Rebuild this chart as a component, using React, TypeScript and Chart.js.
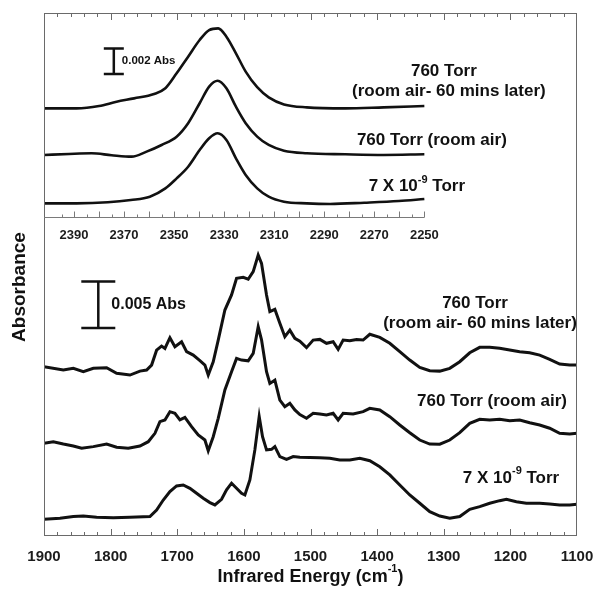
import React, { useEffect, useRef } from "react";
import { Chart, registerables } from "chart.js";

Chart.register(...registerables);

// ---------- Main panel: 1900–1100 cm-1, absorbance in mAbs relative to each trace's start ----------
const laterWn = [1900, 1871, 1856, 1841, 1826, 1806, 1791, 1771, 1756, 1746, 1738.5, 1731, 1723.5, 1718.5, 1711, 1703.5, 1693.5, 1686, 1676, 1666, 1658.5, 1653.5, 1646, 1638.5, 1628.5, 1618.5, 1611, 1601, 1593.5, 1586, 1578.5, 1573.5, 1566, 1561, 1553.5, 1546, 1538.5, 1531, 1523.5, 1516, 1506, 1496, 1486, 1476, 1466, 1458.5, 1451, 1441, 1431, 1421, 1411, 1396, 1381, 1366, 1351, 1336, 1321, 1306, 1291, 1276, 1261, 1246, 1231, 1216, 1201, 1186, 1171, 1156, 1141, 1126, 1111, 1100];
const laterAbs = [0, -0.35, -0.17, -0.54, -0.17, -0.1, -0.71, -0.89, -0.47, -0.35, 0.18, 1.78, 2.22, 1.97, 3.12, 2.15, 2.69, 1.62, 1.25, 0.65, 0.18, -0.89, 0.54, 2.87, 6.1, 7.72, 9.51, 9.61, 9.41, 10.23, 12.02, 11.12, 7.72, 5.93, 6.18, 4.67, 3.23, 3.94, 3.06, 2.74, 2.05, 2.87, 2.94, 2.52, 2.69, 1.87, 2.87, 2.79, 2.94, 2.87, 3.49, 3.16, 2.52, 1.62, 0.72, -0.07, -0.43, -0.47, -0.17, 0.54, 1.5, 2.09, 2.09, 1.98, 1.8, 1.62, 1.5, 1.25, 0.8, 0.29, 0.18, 0.18];

const airWn = [1900, 1886, 1871, 1856, 1843.5, 1826, 1806, 1791, 1773.5, 1756, 1743.5, 1733.5, 1726, 1718.5, 1711, 1703.5, 1696, 1688.5, 1678.5, 1668.5, 1658.5, 1653.5, 1646, 1638.5, 1628.5, 1618.5, 1611, 1603.5, 1593.5, 1586, 1578.5, 1573.5, 1566, 1561, 1553.5, 1546, 1538.5, 1531, 1523.5, 1516, 1506, 1496, 1486, 1476, 1466, 1458.5, 1451, 1436, 1421, 1411, 1396, 1381, 1366, 1351, 1336, 1321, 1306, 1291, 1276, 1261, 1246, 1231, 1216, 1201, 1186, 1171, 1156, 1141, 1126, 1111, 1100];
const airAbs = [0, 0.17, -0.08, -0.29, -0.54, -0.36, -0.08, -0.43, -0.54, -0.29, 0.17, 1.07, 2.33, 2.51, 3.4, 3.23, 2.51, 2.79, 1.79, 0.89, 0.35, -0.8, 0.71, 2.69, 5.73, 7.7, 9.13, 8.95, 8.87, 9.66, 12.53, 11.12, 7.7, 6.44, 6.79, 4.65, 3.93, 4.3, 3.59, 3.08, 2.69, 3.23, 3.15, 3.04, 3.23, 2.51, 3.23, 3.15, 3.4, 3.76, 3.58, 2.86, 1.97, 1.14, 0.35, -0.08, -0.1, 0.35, 1.14, 2.15, 2.58, 2.51, 2.58, 2.43, 2.51, 2.21, 1.97, 1.62, 1.07, 1.0, 1.07];

const vacWn = [1900, 1876, 1856, 1841, 1821, 1796, 1771, 1741, 1731, 1721, 1711, 1701, 1691, 1681, 1671, 1661, 1651, 1643.5, 1633.5, 1626, 1618.5, 1611, 1603.5, 1598.5, 1591, 1583.5, 1577, 1572, 1566, 1558.5, 1553.5, 1546, 1536, 1526, 1516, 1501, 1486, 1471, 1456, 1441, 1426, 1411, 1396, 1381, 1366, 1351, 1336, 1321, 1306, 1291, 1276, 1261, 1246, 1231, 1216, 1206, 1191, 1176, 1156, 1141, 1126, 1111, 1100];
const vacAbs = [0, 0.1, 0.29, 0.35, 0.22, 0.17, 0.22, 0.29, 1.0, 2.07, 2.98, 3.58, 3.69, 3.33, 2.79, 2.26, 1.79, 1.54, 2.15, 3.16, 3.88, 3.33, 2.79, 2.61, 4.23, 7.46, 11.04, 8.88, 7.46, 7.52, 7.81, 6.74, 6.45, 6.74, 6.67, 6.65, 6.62, 6.56, 6.37, 6.37, 6.56, 6.3, 5.65, 4.77, 3.69, 2.61, 1.72, 0.82, 0.35, 0.1, 0.29, 1.07, 1.36, 1.72, 2.0, 2.15, 1.89, 1.72, 1.72, 1.64, 1.54, 1.54, 1.62];

// Vertical stacking of the main traces (mAbs)
const mainOffsets = [18.2, 9.97, 1.8];

// ---------- Inset: CO2 region 2400–2250 cm-1 ----------
const insetLaterWn = [2402, 2389, 2380, 2373, 2366, 2358, 2353.5, 2349, 2344.4, 2339.8, 2336, 2332.4, 2329.1, 2325.3, 2321.4, 2316.8, 2312.2, 2306.1, 2297, 2281.6, 2266.3, 2250];
const insetLaterAbs = [0, 0, 0.18, 0.52, 0.78, 1.12, 1.57, 2.74, 4.04, 5.34, 6.12, 6.25, 5.6, 4.3, 2.87, 1.65, 0.86, 0.31, 0.08, 0, 0.08, 0.18];

const insetAirWn = [2402, 2392, 2383, 2375, 2367, 2361, 2355, 2349, 2344.4, 2339.8, 2336, 2332.6, 2329.1, 2325.3, 2321.4, 2316.8, 2312.2, 2306.1, 2297, 2281.6, 2266.3, 2250];
const insetAirAbs = [0, 0.08, 0.13, -0.02, -0.13, 0.26, 0.78, 1.43, 2.48, 4.04, 5.34, 5.8, 5.21, 3.77, 2.48, 1.43, 0.78, 0.33, 0.13, 0.05, 0, 0.05];

const insetVacWn = [2402, 2389, 2376.5, 2367.3, 2359.7, 2353.5, 2349, 2344.4, 2339.8, 2336, 2332.6, 2329.1, 2325.3, 2321.4, 2316.8, 2312.2, 2306.1, 2297, 2287.7, 2274, 2260.2, 2250];
const insetVacAbs = [0, 0, 0.08, 0.26, 0.52, 1.17, 1.95, 2.86, 4.16, 5.08, 5.47, 4.95, 3.52, 2.22, 1.17, 0.52, 0.13, 0, -0.05, 0.05, 0.18, 0.34];

const insetOffsets = [33.41, 29.77, 25.99];

// Axis settings
const mainRange = [1100, 1900];
const insetRange = [2189, 2402];
const mainYMax = 56.24;
const insetYMax = 40.86;
const insetTickLabels = [2390, 2370, 2350, 2330, 2310, 2290, 2270, 2250];
const insetAxisLevel = 24.95;
const insetAxisEnd = 2250;

// Scale bars: [wavenumber, lower value, height in mAbs]
const mainBar = [1818.5, 22.37, 5];
const insetBar = [2374.1, 36.09, 2];

const FONT = "'Liberation Sans', Arial, Helvetica, sans-serif";
const INK = "#111";

const zip = (xs: number[], ys: number[], off: number) =>
  xs.slice(0, Math.min(xs.length, ys.length)).map((x, i) => ({ x, y: ys[i] + off }));

type Part = { t: string; sup?: boolean };

function drawParts(ctx: CanvasRenderingContext2D, parts: Part[], cx: number, cy: number, size: number) {
  const big = `bold ${size}px ${FONT}`;
  const small = `bold ${Math.round(size * 0.62)}px ${FONT}`;
  let w = 0;
  for (const p of parts) {
    ctx.font = p.sup ? small : big;
    w += ctx.measureText(p.t).width;
  }
  let x = cx - w / 2;
  ctx.textAlign = "left";
  ctx.textBaseline = "middle";
  for (const p of parts) {
    ctx.font = p.sup ? small : big;
    ctx.fillText(p.t, x, p.sup ? cy - size * 0.42 : cy);
    x += ctx.measureText(p.t).width;
  }
}

const decorations = {
  id: "decorations",
  afterDatasetsDraw(chart: any) {
    const { ctx, chartArea: a, scales } = chart;
    const x = scales.x;
    const xi = scales.xInset;
    const y = scales.y;
    const yi = scales.yInset;
    ctx.save();

    // frame
    ctx.strokeStyle = "#6a6a6a";
    ctx.lineWidth = 1;
    ctx.strokeRect(a.left + 0.5, a.top + 0.5, a.right - a.left - 1, a.bottom - a.top - 1);

    // main axis ticks, inside at bottom and mirrored at top
    ctx.beginPath();
    for (let v = mainRange[1] - 20; v > mainRange[0]; v -= 20) {
      const px = Math.round(x.getPixelForValue(v)) + 0.5;
      const len = v % 100 === 0 ? 7 : 4;
      ctx.moveTo(px, a.bottom);
      ctx.lineTo(px, a.bottom - len);
      ctx.moveTo(px, a.top);
      ctx.lineTo(px, a.top + len);
    }
    ctx.stroke();

    // inset axis
    const ly = Math.round(yi.getPixelForValue(insetAxisLevel)) + 0.5;
    ctx.strokeStyle = "#7a7a7a";
    ctx.beginPath();
    ctx.moveTo(a.left, ly);
    ctx.lineTo(xi.getPixelForValue(insetAxisEnd), ly);
    for (let v = 2395; v >= insetAxisEnd; v -= 5) {
      const px = Math.round(xi.getPixelForValue(v)) + 0.5;
      const len = v % 10 === 0 ? 6 : 3;
      ctx.moveTo(px, ly);
      ctx.lineTo(px, ly - len);
    }
    ctx.stroke();

    ctx.fillStyle = "#1c1c1c";
    ctx.font = `bold 13px ${FONT}`;
    ctx.textAlign = "center";
    ctx.textBaseline = "middle";
    for (const v of insetTickLabels) {
      ctx.fillText(String(v), xi.getPixelForValue(v), ly + 18);
    }

    // scale bars
    ctx.strokeStyle = INK;
    ctx.lineWidth = 2.5;
    const bar = (sx: any, sy: any, spec: number[], cap: number) => {
      const bx = sx.getPixelForValue(spec[0]);
      const b0 = sy.getPixelForValue(spec[1]);
      const b1 = sy.getPixelForValue(spec[1] + spec[2]);
      ctx.beginPath();
      ctx.moveTo(bx, b0);
      ctx.lineTo(bx, b1);
      ctx.moveTo(bx - cap, b0);
      ctx.lineTo(bx + cap, b0);
      ctx.moveTo(bx - cap, b1);
      ctx.lineTo(bx + cap, b1);
      ctx.stroke();
      return { bx, mid: (b0 + b1) / 2 };
    };
    const mb = bar(x, y, mainBar, 17);
    const ib = bar(xi, yi, insetBar, 10);
    ctx.fillStyle = INK;
    ctx.textAlign = "left";
    ctx.textBaseline = "middle";
    ctx.font = `bold 16px ${FONT}`;
    ctx.fillText("0.005 Abs", mb.bx + 13, mb.mid);
    ctx.font = `bold 11.5px ${FONT}`;
    ctx.fillText("0.002 Abs", ib.bx + 8, ib.mid);

    // trace labels
    const L = 17;
    const at = (sx: any, sy: any, wn: number, v: number) => [sx.getPixelForValue(wn), sy.getPixelForValue(v)];
    let p = at(x, y, 1253, 25.02);
    drawParts(ctx, [{ t: "760 Torr" }], p[0], p[1], L);
    p = at(x, y, 1245.6, 22.87);
    drawParts(ctx, [{ t: "(room air- 60 mins later)" }], p[0], p[1], L);
    p = at(x, y, 1227.6, 14.44);
    drawParts(ctx, [{ t: "760 Torr (room air)" }], p[0], p[1], L);
    p = at(x, y, 1199, 6.2);
    drawParts(ctx, [{ t: "7 X 10" }, { t: "-9", sup: true }, { t: " Torr" }], p[0], p[1], L);

    p = at(xi, yi, 2242.2, 36.27);
    drawParts(ctx, [{ t: "760 Torr" }], p[0], p[1], L);
    p = at(xi, yi, 2240.2, 34.71);
    drawParts(ctx, [{ t: "(room air- 60 mins later)" }], p[0], p[1], L);
    p = at(xi, yi, 2247, 30.94);
    drawParts(ctx, [{ t: "760 Torr (room air)" }], p[0], p[1], L);
    p = at(xi, yi, 2253, 27.29);
    drawParts(ctx, [{ t: "7 X 10" }, { t: "-9", sup: true }, { t: " Torr" }], p[0], p[1], L);

    // axis titles
    drawParts(ctx, [{ t: "Infrared Energy (cm" }, { t: "-1", sup: true }, { t: ")" }], (a.left + a.right) / 2, 577, 18);
    ctx.save();
    ctx.translate(20, 287);
    ctx.rotate(-Math.PI / 2);
    drawParts(ctx, [{ t: "Absorbance" }], 0, 0, 19);
    ctx.restore();

    ctx.restore();
  },
};

export default function App() {
  const ref = useRef<HTMLCanvasElement>(null);

  useEffect(() => {
    document.body.style.margin = "0";
    const mainLine = { borderColor: INK, borderWidth: 3, pointRadius: 0, tension: 0, xAxisID: "x", yAxisID: "y" };
    const insetLine = {
      borderColor: INK,
      borderWidth: 2.6,
      pointRadius: 0,
      cubicInterpolationMode: "monotone" as const,
      xAxisID: "xInset",
      yAxisID: "yInset",
    };
    const chart = new Chart(ref.current as HTMLCanvasElement, {
      type: "line",
      data: {
        datasets: [
          { label: "760 Torr (room air- 60 mins later)", data: zip(laterWn, laterAbs, mainOffsets[0]), ...mainLine },
          { label: "760 Torr (room air)", data: zip(airWn, airAbs, mainOffsets[1]), ...mainLine },
          { label: "7 X 10-9 Torr", data: zip(vacWn, vacAbs, mainOffsets[2]), ...mainLine },
          { label: "760 Torr (room air- 60 mins later) CO2", data: zip(insetLaterWn, insetLaterAbs, insetOffsets[0]), ...insetLine },
          { label: "760 Torr (room air) CO2", data: zip(insetAirWn, insetAirAbs, insetOffsets[1]), ...insetLine },
          { label: "7 X 10-9 Torr CO2", data: zip(insetVacWn, insetVacAbs, insetOffsets[2]), ...insetLine },
        ] as any,
      },
      options: {
        animation: false,
        responsive: false,
        devicePixelRatio: 1,
        events: [],
        layout: { padding: { left: 44, right: 23, top: 13, bottom: 0 } },
        plugins: { legend: { display: false }, tooltip: { enabled: false } },
        scales: {
          x: {
            type: "linear",
            position: "bottom",
            reverse: true,
            min: mainRange[0],
            max: mainRange[1],
            grid: { display: false },
            border: { display: false },
            ticks: {
              stepSize: 100,
              padding: 4,
              color: "#1c1c1c",
              font: { family: FONT, size: 15, weight: "bold" },
              callback: (v: any) => String(v),
            },
            afterFit: (s: any) => {
              s.height = 57;
            },
          },
          xInset: { type: "linear", reverse: true, min: insetRange[0], max: insetRange[1], display: false },
          y: { type: "linear", min: 0, max: mainYMax, display: false },
          yInset: { type: "linear", min: 0, max: insetYMax, display: false },
        } as any,
      },
      plugins: [decorations],
    });
    return () => chart.destroy();
  }, []);

  return (
    <div style={{ width: 600, height: 593 }}>
      <canvas ref={ref} width={600} height={593} style={{ display: "block", width: 600, height: 593 }} />
    </div>
  );
}
